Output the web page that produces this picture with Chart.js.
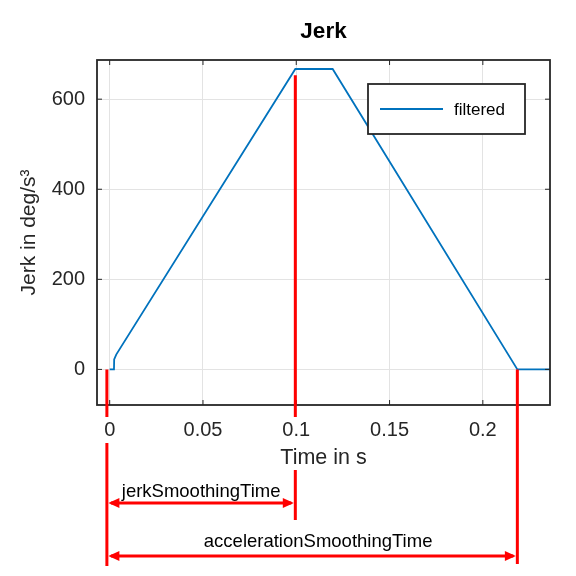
<!DOCTYPE html>
<html>
<head>
<meta charset="utf-8">
<script src="https://cdn.jsdelivr.net/npm/chart.js@4.4.1/dist/chart.umd.min.js"></script>
<style>
  html, body { margin: 0; background: #fff; }
  #wrap { width: 576px; height: 576px; }
</style>
</head>
<body>
<div id="wrap"><canvas id="jerkChart"></canvas></div>
<script>
// values
const timeValues = [0, 0.0023, 0.0024, 0.0035, 0.0995, 0.1195, 0.2185, 0.236];
const jerkValues = [0, 0, 22, 33, 667, 667, 0, 0];
const xTicks = [0, 0.05, 0.1, 0.15, 0.2];
const yTicks = [0, 200, 400, 600];

// red annotation lines (time, top value) and the two spans
const markerTimes = [-0.0015, 0.0995, 0.2185];
const markerTops = [0, 653, 0];
const spanLabels = ['jerkSmoothingTime', 'accelerationSmoothingTime'];
const spanEnds = [0.0995, 0.2185];

const FONT = "'Liberation Sans', Arial, Helvetica, sans-serif";
const INK = '#262626';
const RED = '#ff0000';

function arrowHead(ctx, x, y, dir) {
  ctx.beginPath();
  ctx.moveTo(x, y);
  ctx.lineTo(x - dir * 11, y - 5);
  ctx.lineTo(x - dir * 11, y + 5);
  ctx.closePath();
  ctx.fill();
}

const decorations = {
  id: 'decorations',
  afterDraw(chart) {
    const ctx = chart.ctx;
    const a = chart.chartArea;
    const xs = chart.scales.x, ys = chart.scales.y;
    ctx.save();

    // box + inward ticks
    ctx.strokeStyle = INK;
    ctx.lineWidth = 1.8;
    ctx.strokeRect(a.left, a.top, a.right - a.left, a.bottom - a.top);
    ctx.lineWidth = 1;
    ctx.beginPath();
    xTicks.forEach(v => {
      const px = xs.getPixelForValue(v);
      ctx.moveTo(px, a.bottom); ctx.lineTo(px, a.bottom - 5);
      ctx.moveTo(px, a.top); ctx.lineTo(px, a.top + 5);
    });
    yTicks.forEach(v => {
      const py = ys.getPixelForValue(v);
      ctx.moveTo(a.left, py); ctx.lineTo(a.left + 5, py);
      ctx.moveTo(a.right, py); ctx.lineTo(a.right - 5, py);
    });
    ctx.stroke();

    // title
    ctx.fillStyle = '#000';
    ctx.font = 'bold 22.5px ' + FONT;
    ctx.textAlign = 'center';
    ctx.textBaseline = 'middle';
    ctx.fillText('Jerk', (a.left + a.right) / 2, 32);

    // legend
    const ds = chart.data.datasets[0];
    const lx = a.right - 182, ly = a.top + 24, lw = 157, lh = 50;
    ctx.fillStyle = '#fff';
    ctx.fillRect(lx, ly, lw, lh);
    ctx.strokeStyle = INK;
    ctx.lineWidth = 1.8;
    ctx.strokeRect(lx, ly, lw, lh);
    ctx.strokeStyle = ds.borderColor;
    ctx.lineWidth = ds.borderWidth;
    ctx.beginPath();
    ctx.moveTo(lx + 12, ly + lh / 2);
    ctx.lineTo(lx + 75, ly + lh / 2);
    ctx.stroke();
    ctx.fillStyle = '#000';
    ctx.font = '17px ' + FONT;
    ctx.textAlign = 'left';
    ctx.fillText(ds.label, lx + 86, ly + lh / 2 + 1);

    // red vertical lines (gaps where the axis texts sit)
    const bottoms = [566, 520, 564];
    const gaps = [[417, 443], [417, 470], null];
    ctx.strokeStyle = RED;
    ctx.lineWidth = 3;
    markerTimes.forEach((t, i) => {
      const px = xs.getPixelForValue(t);
      const top = ys.getPixelForValue(markerTops[i]);
      ctx.beginPath();
      if (gaps[i]) {
        ctx.moveTo(px, top); ctx.lineTo(px, gaps[i][0]);
        ctx.moveTo(px, gaps[i][1]); ctx.lineTo(px, bottoms[i]);
      } else {
        ctx.moveTo(px, top); ctx.lineTo(px, bottoms[i]);
      }
      ctx.stroke();
    });

    // span arrows with labels
    const arrowY = [503, 556];
    const textY = [497, 547];
    const x0 = xs.getPixelForValue(markerTimes[0]);
    spanLabels.forEach((label, i) => {
      const x1 = xs.getPixelForValue(spanEnds[i]);
      const y = arrowY[i];
      ctx.strokeStyle = RED;
      ctx.fillStyle = RED;
      ctx.lineWidth = 3;
      ctx.beginPath();
      ctx.moveTo(x0 + 4, y); ctx.lineTo(x1 - 4, y);
      ctx.stroke();
      arrowHead(ctx, x0 + 1.5, y, -1);
      arrowHead(ctx, x1 - 1.5, y, 1);
      ctx.fillStyle = '#000';
      ctx.font = '18.5px ' + FONT;
      ctx.textAlign = 'center';
      ctx.textBaseline = 'alphabetic';
      ctx.fillText(label, (x0 + x1) / 2 + (i === 1 ? 6 : 0), textY[i]);
    });

    ctx.restore();
  }
};

new Chart(document.getElementById('jerkChart'), {
  type: 'line',
  data: {
    datasets: [{
      label: 'filtered',
      data: timeValues.map((t, i) => ({x: t, y: jerkValues[i]})),
      borderColor: '#0072BD',
      borderWidth: 1.8,
      pointRadius: 0,
      tension: 0
    }]
  },
  options: {
    responsive: true,
    maintainAspectRatio: false,
    animation: false,
    layout: {padding: {top: 60, right: 26, left: 0, bottom: 0}},
    plugins: {
      legend: {display: false},
      title: {display: false},
      tooltip: {enabled: false}
    },
    scales: {
      x: {
        type: 'linear',
        min: -0.0068,
        max: 0.236,
        afterFit: s => { s.height = 171; },
        afterBuildTicks: s => { s.ticks = xTicks.map(v => ({value: v})); },
        grid: {color: '#e3e3e3', drawTicks: false},
        border: {display: false},
        ticks: {
          padding: 13,
          color: INK,
          font: {family: FONT, size: 20},
          maxRotation: 0,
          callback: v => String(v)
        },
        title: {
          display: true,
          text: 'Time in s',
          color: INK,
          font: {family: FONT, size: 21.5},
          padding: {top: 0, bottom: 105}
        }
      },
      y: {
        min: -79,
        max: 687,
        afterFit: s => { s.width = 97; },
        afterBuildTicks: s => { s.ticks = yTicks.map(v => ({value: v})); },
        grid: {color: '#e3e3e3', drawTicks: false},
        border: {display: false},
        ticks: {
          padding: 12,
          color: INK,
          font: {family: FONT, size: 20}
        },
        title: {
          display: true,
          text: 'Jerk in deg/s³',
          color: INK,
          font: {family: FONT, size: 21},
          padding: {top: 16.5, bottom: 0}
        }
      }
    }
  },
  plugins: [decorations]
});
</script>
</body>
</html>
